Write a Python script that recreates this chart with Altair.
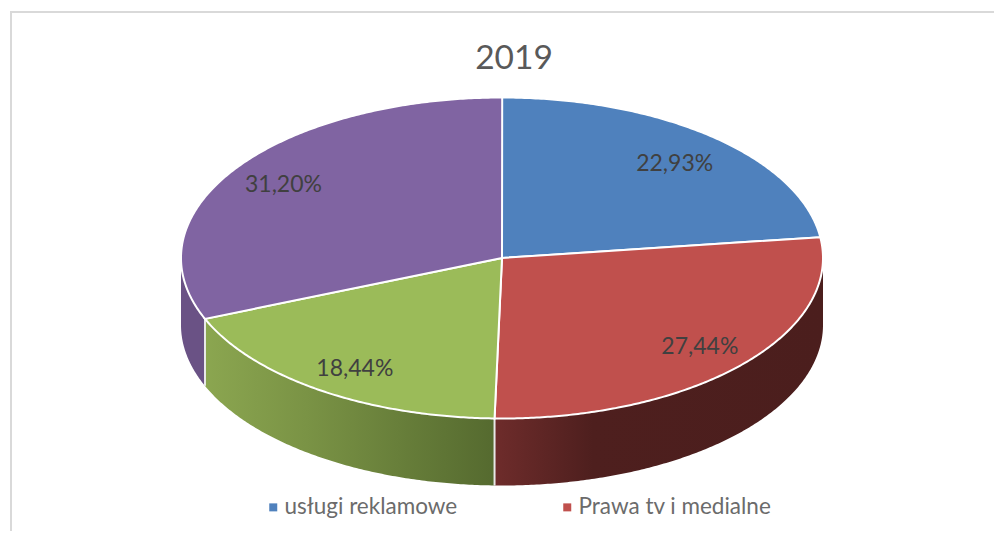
import math
import altair as alt
import pandas as pd

categories = ["usługi reklamowe", "Prawa tv i medialne", "pozostałe", "dzień meczowy"]
shares = [22.93, 27.44, 18.44, 31.20]
share_labels = ["22,93%", "27,44%", "18,44%", "31,20%"]
colors = ["#4f81bd", "#c0504d", "#9bbb59", "#8064a2"]
legend_items = ["usługi reklamowe", "Prawa tv i medialne"]

W, H = 986, 523
CX, CY, RX, RY, DEPTH = 494, 250, 321, 160.5, 67
FONT = "Lato"
LABEL_NUDGE = [(-1, 5), (2, 1), (2, 3), (0, 0)]


def pt(deg):
    a = math.radians(deg)
    return CX + RX * math.sin(a), CY - RY * math.cos(a)


# top faces, derived from the shares
rows, labels, walls, seams = [], [], [], []
start = 0.0
for cat, s, lab, (nx, ny) in zip(categories, shares, share_labels, LABEL_NUDGE):
    end = start + s * 3.6
    n = max(2, int((end - start) / 0.5))
    x0, y0 = CX, CY
    rows.append(dict(cat=cat, i=0, x=x0, y=y0))
    for k in range(n + 1):
        x, y = pt(start + (end - start) * k / n)
        rows.append(dict(cat=cat, i=k + 1, x=x, y=y))
    rows.append(dict(cat=cat, i=n + 2, x=x0, y=y0))
    mid = (start + end) / 2
    a = math.radians(mid)
    labels.append(dict(label=lab, x=CX + 0.82 * RX * math.sin(a) + nx, y=CY - 0.82 * RY * math.cos(a) + ny))
    # visible wall: front half of the ellipse only
    w0, w1 = max(start, 90), min(end, 270)
    if w1 > w0:
        m = max(2, int((w1 - w0) / 0.5))
        for k in range(m + 1):
            x, y = pt(w0 + (w1 - w0) * k / m)
            walls.append(dict(cat=cat, x=x, y=y, y2=y + DEPTH))
    if 90 < end < 270:
        x, y = pt(end)
        seams.append(dict(x=x, y=y, y2=y + DEPTH))
    start = end

faces = pd.DataFrame(rows)
walls = pd.DataFrame(walls)
labels = pd.DataFrame(labels)
seams = pd.DataFrame(seams)

xs = alt.Scale(domain=[0, W], nice=False, zero=False)
ys = alt.Scale(domain=[H, 0], nice=False, zero=False)
X = alt.X("x:Q", scale=xs, axis=None)
Y = alt.Y("y:Q", scale=ys, axis=None)


def grad(stops):
    return alt.Gradient(
        gradient="linear", x1=0, y1=0, x2=1, y2=0,
        stops=[alt.GradientStop(offset=o, color=c) for o, c in stops],
    )


def wall(cat, fill):
    return alt.Chart(walls[walls["cat"] == cat]).mark_area(fill=fill, interpolate="linear").encode(
        x=X, y=Y, y2="y2:Q"
    )


wall_red = wall("Prawa tv i medialne", grad([(0, "#6e2c2b"), (0.3, "#4e1f1e"), (1, "#4b1e1d")]))
wall_green = wall("pozostałe", grad([(0, "#8ba650"), (0.35, "#7a9345"), (1, "#556a2f")]))
wall_purple = wall("dzień meczowy", "#6a5285")

seam_rules = alt.Chart(seams).mark_rule(color="#e8e8e8", strokeWidth=2).encode(x=X, y=Y, y2="y2:Q")

top = alt.Chart(faces).mark_line(filled=True, stroke="white", strokeWidth=2, interpolate="linear").encode(
    x=X, y=Y, order="i:Q",
    color=alt.Color(
        "cat:N",
        scale=alt.Scale(domain=categories, range=colors),
        legend=alt.Legend(
            values=legend_items, title=None, orient="none", direction="horizontal",
            legendX=254, legendY=488, symbolType="square", symbolSize=64, symbolStrokeWidth=0,
            labelFont=FONT, labelFontSize=22.5, labelColor="#6b6b6b", labelLimit=300,
            columnPadding=98, labelOffset=0, symbolOpacity=1,
        ),
    ),
)

text = alt.Chart(labels).mark_text(font=FONT, fontSize=23, color="#404040").encode(x=X, y=Y, text="label:N")

frame_top = alt.Chart(pd.DataFrame({"a": [0]})).mark_rule(color="#d9d9d9", strokeWidth=2).encode(
    x=alt.value(2), x2=alt.value(W), y=alt.value(4)
)
frame_left = alt.Chart(pd.DataFrame({"a": [0]})).mark_rule(color="#d9d9d9", strokeWidth=2).encode(
    x=alt.value(3), y=alt.value(4), y2=alt.value(H)
)

chart = (
    alt.layer(frame_top, frame_left, wall_purple, wall_green, wall_red, seam_rules, top, text)
    .properties(
        width=W, height=H, padding=0,
        title=alt.TitleParams("2019", font=FONT, fontSize=33.5, fontWeight="normal", color="#595959",
                              anchor="middle", dx=13, dy=68, offset=0),
        autosize=alt.AutoSizeParams(type="none"),
    )
    .configure_view(stroke=None)
)
chart.save("out.html", embed_options={"renderer": "svg", "actions": False})
